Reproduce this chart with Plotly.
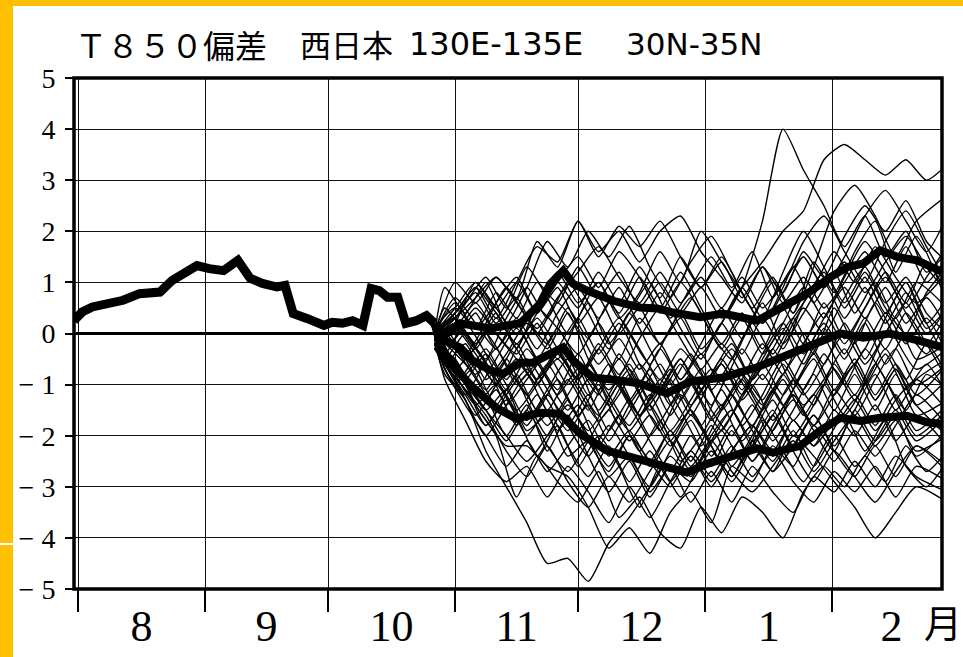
import plotly.graph_objects as go

# ---------------- data ----------------
# x in days since 1 Aug
month_start_days = [0, 31, 61, 92, 122, 153, 184]
month_mid_days = [15.5, 46, 76.5, 107, 137.5, 168.5, 198.5]
month_labels = ["8", "9", "10", "11", "12", "1", "2"]

y_ticks = [5, 4, 3, 2, 1, 0, -1, -2, -3, -4, -5]
y_tick_labels = ["5", "4", "3", "2", "1", "0",
                 "\u2212 1", "\u2212 2", "\u2212 3", "\u2212 4", "\u2212 5"]

obs_days = [-1, 1, 3.5, 7, 11, 15, 20, 23, 26.5, 29, 32, 35.5, 39, 42, 45, 48.5, 50.5,
            52.5, 56, 60, 62, 64.5, 67, 69.5, 71.5, 73.5, 75.5, 78, 80, 82.5, 85, 87]
obs_vals = [0.25, 0.42, 0.52, 0.59, 0.65, 0.78, 0.81, 1.04, 1.2, 1.33, 1.27, 1.23, 1.43, 1.08,
            0.98, 0.91, 0.94, 0.39, 0.29, 0.16, 0.22, 0.2, 0.25, 0.16, 0.88, 0.84, 0.71, 0.71,
            0.2, 0.25, 0.35, 0.2]

upper_days = [87, 88.3, 93.2, 100.5, 107.9, 112.7, 115.2, 118.4, 120.8, 124.2, 130.6, 137.1,
              141.3, 145.2, 151.8, 157.4, 165.7, 172, 177.9, 183.5, 187.7, 191.6, 195.7, 199.9,
              204.7, 211]
upper_vals = [0.2, -0.1, 0.2, 0.1, 0.2, 0.58, 0.97, 1.23, 0.97, 0.84, 0.64, 0.51, 0.49, 0.41,
              0.32, 0.39, 0.25, 0.51, 0.78, 1.1, 1.3, 1.37, 1.63, 1.5, 1.43, 1.2]

mid_days = [87, 88.3, 93.2, 96.3, 100.5, 103.7, 107.9, 111, 115.2, 118.4, 120.8, 125.6, 132.2,
            137.1, 143.7, 149.3, 157.4, 165.7, 173.7, 181.8, 186, 191.6, 198, 204.7, 211]
mid_vals = [0.2, -0.1, -0.27, -0.53, -0.72, -0.79, -0.57, -0.57, -0.4, -0.27, -0.53, -0.86,
            -0.92, -0.98, -1.17, -0.94, -0.86, -0.66, -0.4, -0.13, 0.0, -0.08, 0.0, -0.13, -0.27]

low_days = [87, 88.3, 91, 96.3, 102, 107, 112.7, 117.6, 122.5, 129, 135.4, 141.3, 148.6, 153.5,
            159.8, 165.7, 169.6, 176.2, 181.1, 186, 190.8, 195.7, 202.3, 207.2, 211]
low_vals = [0.2, -0.2, -0.6, -1.05, -1.45, -1.67, -1.55, -1.57, -1.96, -2.29, -2.43, -2.55,
            -2.72, -2.55, -2.39, -2.25, -2.33, -2.2, -1.9, -1.65, -1.71, -1.65, -1.61, -1.74, -1.77]

ens_days_a = [87, 92, 97, 102, 107, 112, 117, 122, 127, 132, 137, 142, 147, 152, 157, 162, 167,
              172, 177, 182, 187, 192, 197, 202, 207, 212]
ens_days_b = [87, 89.5, 94.5, 99.5, 104.5, 109.5, 114.5, 119.5, 124.5, 129.5, 134.5, 139.5, 144.5,
              149.5, 154.5, 159.5, 164.5, 169.5, 174.5, 179.5, 184.5, 189.5, 194.5, 199.5, 204.5, 212]

m01 = [-0.2, -0.8, -1.3, -2.3, -3.0, -3.7, -4.5, -4.4, -4.85, -4.1, -3.6, -3.0, -2.4, -2.8, -2.0, -1.5, -2.1, -1.6, -0.9, -1.4, -0.6, -1.2, -0.4, 0.3, -0.5, -0.2]
m02 = [-0.1, -0.6, -1.1, -1.7, -2.2, -2.2, -2.6, -2.8, -3.4, -4.2, -3.8, -4.3, -3.5, -3.1, -3.7, -2.6, -2.9, -2.2, -2.6, -1.8, -2.3, -1.5, -2.1, -1.6, -2.4, -1.9]
m03 = [-0.2, -0.5, -1.4, -2.0, -3.2, -2.4, -2.9, -3.3, -2.7, -3.6, -3.2, -3.9, -4.2, -3.4, -3.9, -3.2, -3.5, -4.0, -3.1, -2.6, -3.0, -2.4, -2.9, -2.2, -2.7, -2.3]
m04 = [0.0, -0.4, -0.9, -1.5, -1.1, -1.9, -1.6, -2.4, -2.1, -2.8, -2.4, -3.1, -2.6, -2.9, -2.3, -2.8, -2.2, -2.7, -2.0, -2.4, -2.9, -3.4, -4.0, -3.5, -3.0, -3.3]
m05 = [-0.1, 0.3, -0.2, 0.4, -0.3, 0.5, 0.1, -0.4, 0.2, -0.5, 0.3, -0.2, 0.4, -0.3, 0.2, 0.9, 2.2, 4.0, 3.2, 2.5, 1.7, 2.3, 1.5, 2.0, 1.2, 1.6]
m06 = [0.1, 0.5, 0.1, 0.8, 0.3, 1.0, 0.6, 1.3, 0.7, 1.2, 0.5, 1.0, 0.4, 0.9, 0.3, 0.9, 1.4, 2.0, 2.4, 3.4, 3.7, 3.4, 3.1, 3.4, 3.0, 3.3]
m07 = [-0.1, 0.4, 0.9, 0.3, 1.0, 1.7, 1.4, 2.2, 1.6, 2.0, 1.4, 2.0, 2.3, 1.6, 1.1, 0.6, 1.3, 0.8, 1.6, 1.1, 1.9, 2.5, 2.0, 2.6, 1.8, 1.4]
m08 = [0.0, 0.9, 0.4, 1.0, 0.2, 0.9, 1.8, 1.3, 2.0, 1.5, 2.1, 1.3, 0.7, 1.4, 1.9, 1.2, 0.5, 1.1, 0.4, 1.3, 2.4, 2.9, 2.3, 1.5, 2.2, 2.7]
m09 = [-0.2, 0.2, 1.0, 0.5, 0.0, 0.6, 1.2, 0.6, 1.0, 0.3, 0.8, 1.6, 1.0, 2.0, 1.4, 0.8, 0.2, 0.9, 1.8, 2.3, 1.6, 1.0, 1.8, 2.4, 1.7, 1.0]
m10 = [-0.1, 0.1, -0.4, 0.2, 0.9, 0.3, -0.2, 0.5, -0.1, 0.6, 0.0, -0.6, 0.1, 0.7, 0.0, -0.5, 0.3, 1.0, 0.4, 1.4, 0.8, 1.6, 2.2, 1.2, 1.9, 0.6]
m11 = [-0.3, -0.1, 0.4, -0.3, 0.2, -0.5, 0.1, -0.6, -1.2, -0.4, -1.0, -0.3, -0.9, -0.2, 0.5, -0.1, 0.6, -0.2, 0.4, 1.0, 0.3, 0.9, 0.2, 0.8, 0.1, 0.5]
m12 = [-0.2, -0.6, -0.2, -0.9, -0.4, 0.2, -0.3, 0.4, -0.5, -1.1, -0.6, -1.3, -0.7, -1.4, -0.8, -0.2, -0.9, -0.3, 0.3, -0.4, 0.5, -0.2, 0.6, -0.1, -0.7, -0.3]
m13 = [0.0, -0.3, -0.8, -0.3, -1.0, -0.6, -1.2, -0.7, -1.5, -0.9, -1.6, -1.0, -1.7, -1.1, -0.6, -1.3, -0.8, -1.4, -0.7, -0.1, -0.8, -0.3, 0.4, -0.2, 0.3, -0.4]
m14 = [-0.1, -0.7, -1.2, -0.6, -1.4, -0.9, -0.4, -1.0, -0.6, -1.3, -1.9, -1.4, -2.0, -1.5, -2.1, -1.6, -1.0, -1.7, -1.1, -0.5, -1.2, -0.6, -1.3, -0.7, -1.4, -0.9]
m15 = [-0.2, -0.9, -1.6, -1.1, -1.8, -1.2, -1.9, -1.4, -2.2, -1.6, -2.3, -1.7, -2.5, -2.0, -1.4, -2.1, -1.5, -0.8, -1.4, -0.9, -0.3, -1.0, -0.4, -1.1, -0.6, -1.2]
m16 = [0.0, -0.5, -1.0, -1.8, -1.3, -2.0, -1.5, -2.2, -2.8, -2.2, -2.9, -2.3, -2.9, -2.4, -3.0, -2.3, -1.8, -2.4, -1.7, -2.2, -1.5, -2.0, -1.4, -2.1, -1.6, -2.2]
m17 = [-0.1, -0.3, -0.7, -1.4, -0.8, -1.5, -0.9, -1.6, -1.0, -1.8, -1.2, -0.6, -1.3, -0.7, -1.5, -0.9, -0.2, -0.8, 0.0, -0.6, 0.2, -0.5, 0.3, 1.0, 0.2, -0.5]
m18 = [-0.3, 0.0, -0.5, -1.1, -0.5, -1.3, -2.0, -1.3, -2.1, -2.7, -2.0, -2.6, -1.9, -2.5, -1.8, -2.6, -2.0, -1.3, -2.0, -1.4, -0.7, -1.3, -0.6, -1.3, -2.0, -1.5]
m19 = [-0.1, 0.3, 0.8, 0.2, 0.7, 0.0, 0.6, 0.1, -0.6, -0.1, -0.7, -0.2, -0.9, -0.4, -1.0, -0.3, -0.9, -0.2, 0.5, 0.0, 0.7, 1.3, 0.6, 1.1, 0.4, 0.0]
m20 = [-0.2, -0.4, 0.2, -0.4, -1.1, -0.5, -1.1, -1.8, -1.2, -1.9, -1.3, -2.0, -1.4, -0.8, -1.4, -0.7, -1.3, -1.9, -1.2, -1.8, -1.1, -1.6, -0.9, -0.3, -1.0, -0.6]
m21 = [0.0, 0.6, 0.1, 0.6, 1.1, 0.4, 0.9, 0.2, 0.7, 0.0, 0.5, -0.2, 0.3, -0.4, 0.2, 0.9, 0.3, 1.2, 2.0, 1.3, 0.6, 1.2, 0.5, 0.0, 0.8, 1.3]
m22 = [-0.1, -0.2, -0.6, -1.2, -2.0, -1.4, -2.3, -1.6, -2.4, -3.1, -2.5, -3.2, -2.6, -3.3, -2.7, -3.3, -2.6, -3.1, -3.5, -2.8, -3.1, -2.5, -3.0, -2.4, -2.8, -3.1]
m23 = [-0.2, -0.7, -0.3, -0.9, -1.5, -1.0, -0.5, -1.1, -1.7, -1.2, -0.6, -1.1, -0.5, -1.2, -0.6, -1.2, -0.5, 0.1, -0.6, 0.1, -0.5, 0.2, -0.6, 0.0, -0.4, 0.3]
m24 = [-0.1, 0.2, 0.6, 1.1, 0.5, 1.3, 0.7, 0.0, 0.6, -0.2, 0.4, 1.0, 0.3, 0.9, 1.5, 0.9, 1.6, 0.7, 1.3, 0.6, 1.2, 0.4, 1.0, 0.3, 1.0, 0.5]
m25 = [-0.3, -0.8, -1.4, -1.0, -1.6, -2.4, -1.8, -2.6, -2.0, -2.6, -3.4, -2.6, -3.2, -2.5, -1.9, -2.5, -1.7, -2.3, -2.9, -2.2, -1.6, -2.3, -1.7, -2.6, -3.0, -2.5]
m26 = [0.0, 0.5, 0.0, -0.5, 0.3, 0.9, 0.3, 1.0, 0.4, -0.3, 0.4, -0.3, -1.0, -0.4, -1.1, -0.5, 0.2, -0.4, 0.3, 0.9, 1.6, 1.0, 1.7, 1.1, 0.6, 1.2]
m27 = [-0.2, -0.5, -1.1, -0.5, 0.1, -0.5, -1.1, -0.4, -1.1, -0.5, -1.2, -1.9, -1.2, -1.8, -1.1, -1.8, -1.2, -0.5, -1.1, -0.4, -1.0, -0.3, -0.9, -1.5, -0.8, -1.1]
m28 = [-0.1, -0.9, -1.7, -2.5, -2.9, -2.6, -3.2, -2.6, -3.1, -3.7, -3.0, -3.6, -2.9, -2.3, -2.8, -2.2, -2.8, -2.3, -2.9, -3.3, -2.7, -3.1, -2.6, -3.2, -2.6, -2.9]
m29 = [0.0, 1.0, 0.6, 1.1, 0.7, 1.8, 1.3, 2.2, 1.5, 2.1, 1.7, 2.2, 1.5, 0.9, 1.5, 0.8, 0.2, 0.8, 1.5, 0.9, 1.5, 2.3, 2.8, 2.2, 1.6, 2.3]
m30 = [-0.2, -0.1, -0.5, 0.0, -0.6, -1.2, -0.6, -1.3, -1.9, -1.3, -0.7, -1.4, -2.1, -1.5, -2.2, -2.9, -2.2, -1.5, -2.2, -1.6, -2.2, -1.5, -0.8, -1.5, -0.9, -0.5]
m31 = [-0.1, 0.0, 0.5, 0.0, -0.4, 0.2, -0.5, 0.3, 1.0, 0.4, 1.1, 0.5, 1.2, 0.5, -0.2, 0.4, -0.3, 0.5, -0.2, 0.6, -0.1, 0.5, 1.2, 0.6, 1.4, 0.8]
m32 = [-0.2, -0.6, -1.3, -2.0, -1.4, -0.8, -1.5, -0.9, -1.5, -0.8, -1.4, -2.1, -2.7, -2.0, -2.6, -1.9, -2.5, -1.8, -1.2, -1.8, -1.2, -0.6, -1.3, -0.7, -1.4, -2.0]
m33 = [0.1, 0.3, -0.3, -0.8, -0.2, -0.9, -0.3, -0.9, -0.3, -1.0, -1.6, -0.9, -1.5, -2.2, -1.5, -0.9, -1.5, -0.9, -1.6, -1.0, -1.6, -1.0, -0.3, -0.9, -0.2, -0.8]
m34 = [-0.2, -0.4, -0.9, -0.4, -1.0, -1.7, -1.1, -0.5, -1.2, -0.6, -1.3, -0.7, -1.4, -0.8, -1.5, -2.0, -1.4, -2.1, -1.5, -0.8, -1.5, -0.8, -1.5, -0.8, -1.6, -1.3]
m35 = [0.0, 0.4, 0.9, 0.4, -0.2, 0.4, 1.0, 1.5, 0.9, 1.6, 1.1, 0.4, 1.0, 0.4, -0.3, 0.3, -0.4, 0.2, 0.9, 0.3, 1.1, 1.8, 1.2, 0.5, 1.1, 1.7]
m36 = [-0.1, -0.5, 0.0, -0.6, -1.2, -1.8, -1.2, -1.8, -2.4, -1.8, -2.4, -3.0, -2.3, -1.7, -2.4, -1.8, -2.5, -1.9, -1.3, -1.9, -2.5, -1.9, -2.4, -1.8, -1.2, -1.8]
m37 = [-0.2, -1.0, -0.5, -1.0, -0.3, 0.3, -0.3, -0.9, -0.2, -0.8, -0.1, 0.5, -0.1, -0.7, -0.2, -0.8, -1.4, -0.8, -0.2, 0.4, -0.2, 0.5, 1.1, 0.4, -0.2, 0.4]
m38 = [0.1, -0.3, -1.0, -1.5, -2.1, -1.5, -2.2, -2.7, -2.1, -1.5, -2.1, -1.6, -2.2, -1.6, -2.2, -2.8, -2.1, -2.7, -2.2, -1.6, -2.3, -2.8, -2.2, -2.8, -2.2, -2.6]
m39 = [-0.1, 0.2, -0.3, 0.3, -0.3, -0.9, -0.3, 0.3, -0.4, 0.2, -0.6, -1.2, -0.6, -1.3, -1.9, -1.2, -0.6, -1.2, -0.5, 0.2, -0.4, 0.3, -0.3, 0.4, -0.2, -0.9]
m40 = [-0.2, -0.6, -1.2, -1.8, -1.2, -0.7, -1.3, -1.9, -1.4, -2.1, -1.4, -0.9, -1.6, -1.0, -1.7, -1.2, -1.9, -2.5, -1.9, -2.6, -2.0, -2.6, -2.1, -1.5, -2.1, -1.6]
m41 = [0.0, 0.7, 0.2, -0.3, 0.3, -0.3, 0.4, 0.9, 0.3, 0.9, 0.2, 0.8, 0.1, -0.5, 0.2, -0.4, 0.3, -0.3, 0.6, 1.2, 0.5, 1.1, 0.4, 1.0, 0.2, 0.7]
m42 = [-0.3, -0.6, -1.1, -1.6, -2.3, -2.8, -2.2, -2.9, -3.4, -2.8, -3.3, -2.7, -2.1, -2.7, -2.1, -1.5, -2.2, -1.6, -2.3, -2.9, -2.3, -2.8, -3.3, -2.7, -2.2, -2.7]
m43 = [-0.1, 0.1, 0.6, 0.0, -0.5, -1.0, -0.4, -0.9, -0.3, 0.3, -0.3, -0.9, -0.3, -0.8, -1.4, -0.8, -1.3, -0.6, -1.2, -0.6, 0.0, -0.6, 0.0, 0.6, 0.0, 0.5]
m44 = [-0.2, -0.3, -0.8, -1.3, -0.7, -1.2, -1.8, -1.2, -0.6, -1.2, -1.8, -1.2, -1.9, -1.3, -0.7, -1.2, -1.8, -1.1, -1.7, -1.2, -1.8, -1.3, -1.9, -1.3, -0.9, -1.5]
m45 = [0.0, 0.3, 0.7, 1.1, 0.6, 0.1, 0.7, 1.2, 1.7, 1.1, 0.6, 1.2, 0.6, 1.1, 0.5, 1.1, 0.5, 1.0, 1.5, 0.9, 1.4, 0.8, 1.4, 1.9, 1.3, 0.8]
m46 = [-0.1, -0.4, -0.9, -1.5, -2.0, -2.5, -2.0, -1.4, -2.0, -2.6, -2.0, -2.5, -3.0, -2.4, -2.9, -2.3, -1.8, -2.3, -1.7, -2.2, -1.7, -1.2, -1.8, -1.2, -1.9, -1.4]
m47 = [-0.2, 0.1, -0.4, -1.0, -0.5, -1.0, -0.4, -1.0, -1.6, -1.0, -1.6, -1.1, -0.5, -1.1, -0.5, -1.1, -0.4, 0.2, -0.4, 0.3, 0.9, 0.3, 0.9, 0.2, 0.7, 0.1]
m48 = [-0.1, -0.7, -1.4, -2.0, -2.6, -2.1, -2.7, -2.2, -1.7, -2.4, -1.9, -2.5, -1.9, -2.6, -2.1, -2.7, -3.1, -2.6, -2.1, -2.7, -2.1, -1.6, -2.2, -1.7, -2.3, -2.0]
m49 = [0.0, 0.5, 1.0, 0.5, 1.0, 0.4, 1.0, 0.5, 1.2, 0.6, 1.3, 0.7, 1.5, 0.9, 1.4, 0.7, 1.3, 0.6, 1.1, 0.5, 1.0, 1.6, 1.0, 1.7, 1.0, 1.5]
m50 = [-0.2, -0.3, -0.8, -0.3, -0.9, -0.3, -0.9, -1.5, -0.9, -1.4, -0.8, -1.5, -0.9, -1.6, -0.9, -0.3, -0.9, -0.3, -1.0, -0.4, -1.1, -0.5, -1.2, -0.6, -1.2, -0.6]

ens_members_a = [m03, m05, m06, m07, m09, m11, m13, m15, m17, m19, m21, m23, m25, m27, m29,
                 m31, m33, m35, m37, m39, m41, m43, m45, m47, m49]
ens_members_b = [m01, m02, m04, m08, m10, m12, m14, m16, m18, m20, m22, m24, m26, m28, m30,
                 m32, m34, m36, m38, m40, m42, m44, m46, m48, m50]

title_parts = ["Ｔ８５０偏差", "西日本", "130E-135E", "30N-35N"]
unit_label = "月"

# ---------------- layout geometry (pixels) ----------------
W, H = 963, 657
L, R, T, B = 74, 942, 78, 589


def px(xp):
    return (xp - L) / (R - L)


def py(yp):
    return (B - yp) / (B - T)


fig = go.Figure()

thin = dict(color="black", width=1.4, shape="spline", smoothing=0.6)
for days, group in [(ens_days_a, ens_members_a), (ens_days_b, ens_members_b)]:
    for m in group:
        fig.add_trace(go.Scatter(x=days, y=m, mode="lines", line=thin, hoverinfo="skip"))

for d, v in [(upper_days, upper_vals), (mid_days, mid_vals), (low_days, low_vals)]:
    fig.add_trace(go.Scatter(x=d, y=v, mode="lines",
                             line=dict(color="black", width=8), hoverinfo="skip"))

fig.add_trace(go.Scatter(x=obs_days, y=obs_vals, mode="lines",
                         line=dict(color="black", width=9), hoverinfo="skip"))

serif = "Liberation Serif, DejaVu Serif, serif"
cjk = "Noto Sans CJK JP, sans-serif"
latin = "DejaVu Sans, Noto Sans, sans-serif"

fig.update_layout(
    width=W, height=H,
    margin=dict(l=L, r=W - R, t=T, b=H - B, pad=0, autoexpand=False),
    paper_bgcolor="white", plot_bgcolor="white",
    showlegend=False,
    xaxis=dict(
        range=[-0.98, 210.8], automargin=False,
        tickmode="array", tickvals=month_mid_days, ticktext=month_labels,
        ticks="", showgrid=False, zeroline=False, showline=False,
        tickfont=dict(family=serif, size=44, color="black"),
        ticklabelstandoff=7,
        minor=dict(tickmode="array", tickvals=month_start_days, ticks="outside",
                   ticklen=22, tickwidth=1.5, tickcolor="black",
                   showgrid=True, gridcolor="#111111", gridwidth=1.3),
    ),
    yaxis=dict(
        range=[-5, 5], automargin=False,
        tickmode="array", tickvals=y_ticks, ticktext=y_tick_labels,
        ticks="outside", ticklen=8, tickwidth=1.5, tickcolor="black",
        showgrid=True, gridcolor="#111111", gridwidth=1.3,
        zeroline=True, zerolinecolor="black", zerolinewidth=3,
        showline=False,
        tickfont=dict(family=serif, size=28, color="black"),
        ticklabelstandoff=4,
    ),
)

shapes = [
    dict(type="rect", xref="paper", yref="paper", x0=0, x1=1, y0=0, y1=1,
         line=dict(color="black", width=3.5), layer="above"),
    dict(type="rect", xref="paper", yref="paper", x0=px(0), x1=px(W), y0=py(0), y1=py(6),
         fillcolor="#FFC000", line=dict(width=0), layer="above"),
    dict(type="rect", xref="paper", yref="paper", x0=px(0), x1=px(13), y0=py(0), y1=py(H),
         fillcolor="#FFC000", line=dict(width=0), layer="above"),
    dict(type="rect", xref="paper", yref="paper", x0=px(0), x1=px(13), y0=py(543), y1=py(545),
         fillcolor="white", line=dict(width=0), layer="above"),
]
fig.update_layout(shapes=shapes)

title_x = [73, 298, 407, 624]
title_fonts = [cjk, cjk, latin, latin]
title_sizes = [32, 31, 32, 31]
for t, xx, f, s in zip(title_parts, title_x, title_fonts, title_sizes):
    fig.add_annotation(text=t, xref="paper", yref="paper", x=px(xx), y=py(44),
                       xanchor="left", yanchor="middle", showarrow=False,
                       font=dict(family=f, size=s, color="black"))

fig.add_annotation(text=unit_label, xref="paper", yref="paper", x=px(943), y=py(620),
                   xanchor="center", yanchor="middle", showarrow=False,
                   font=dict(family=cjk, size=38, color="black"))

fig.write_html("out.html", config={"displayModeBar": False},
               post_script="document.body.style.margin='0px';document.body.style.overflow='hidden';")
